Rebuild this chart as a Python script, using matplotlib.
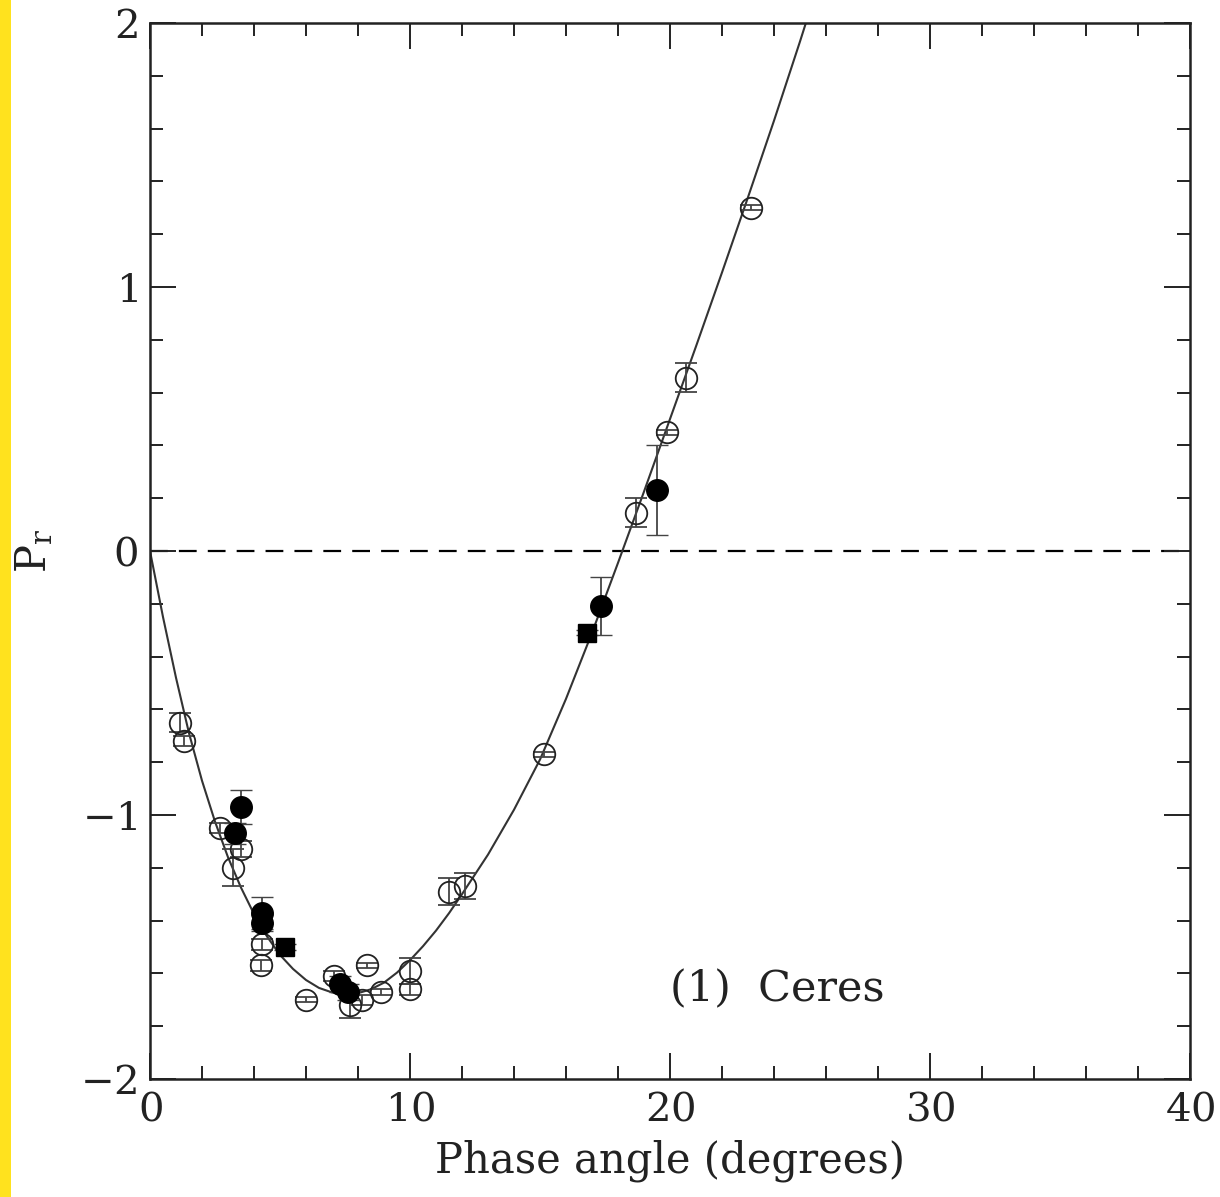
import matplotlib
matplotlib.use("Agg")
import matplotlib.pyplot as plt
from matplotlib.patches import Rectangle
from matplotlib.ticker import MultipleLocator

plt.rcParams['font.family'] = ['DejaVu Serif']
plt.rcParams['mathtext.fontset'] = 'dejavuserif'
plt.rcParams['axes.formatter.use_mathtext'] = True

# Open-circle measurements
open_x = [1.15, 1.31, 2.69, 3.5, 3.2, 4.3, 4.27, 6.0, 7.08, 8.35, 7.7, 8.15, 8.9,
          10.0, 10.0, 11.5, 12.1, 15.15, 18.7, 19.9, 20.6, 23.1]
open_y = [-0.65, -0.72, -1.05, -1.13, -1.20, -1.49, -1.57, -1.70, -1.61, -1.57, -1.72,
          -1.70, -1.67, -1.59, -1.66, -1.29, -1.27, -0.77, 0.145, 0.45, 0.656, 1.30]
open_err = [0.035, 0.02, 0.02, 0.03, 0.07, 0.02, 0.02, 0.01, 0.02, 0.01, 0.05,
            0.02, 0.01, 0.05, 0.02, 0.05, 0.05, 0.01, 0.055, 0.01, 0.055, 0.01]

# Filled-circle measurements
filled_x = [3.5, 3.27, 4.3, 4.3, 7.3, 7.6, 17.35, 19.5]
filled_y = [-0.97, -1.07, -1.37, -1.41, -1.64, -1.67, -0.21, 0.23]
filled_err = [0.065, 0.04, 0.06, 0.03, 0.03, 0.03, 0.11, 0.17]

# Filled-square measurements
square_x = [5.2, 16.8]
square_y = [-1.50, -0.31]
square_err = [0.01, 0.01]

# Fitted phase curve
curve_x = [0, 0.5, 1.0, 1.5, 2.0, 2.5, 3.0, 3.5, 4.0, 4.5, 5.0, 5.5, 6.0, 6.5, 7.0,
           7.5, 8.0, 8.5, 9.0, 9.5, 10, 10.5, 11, 11.5, 12, 13, 14, 15, 16, 17, 18, 19, 20,
           21, 22, 23, 24, 25, 26]
curve_y = [0, -0.25, -0.48, -0.69, -0.87, -1.025, -1.16, -1.275, -1.375, -1.46, -1.53,
           -1.583, -1.625, -1.655, -1.672, -1.68, -1.675, -1.66, -1.635, -1.597, -1.55,
           -1.497, -1.438, -1.372, -1.30, -1.15, -0.98, -0.79, -0.56, -0.31, -0.045,
           0.225, 0.50, 0.775, 1.055, 1.34, 1.63, 1.93, 2.24]

x_ticks = [0, 10, 20, 30, 40]
y_ticks = [-2, -1, 0, 1, 2]

fig = plt.figure(figsize=(12.2, 11.97), dpi=100)
fig.patches.append(Rectangle((0, 0), 11 / 1220, 1, transform=fig.transFigure,
                             facecolor='#FFE21E', edgecolor='none', zorder=0))
ax = fig.add_axes([150 / 1220, 1 - 1079 / 1197, 1040 / 1220, 1056 / 1197])

ax.axhline(0, color='black', lw=1.6, ls=(0, (8, 5)), zorder=1)
ax.plot(curve_x, curve_y, color='#333333', lw=1.5, zorder=2)

ekw = dict(ecolor='#444444', elinewidth=1.3, capsize=8, capthick=1.3, ls='none')
ax.errorbar(open_x, open_y, yerr=open_err, fmt='o', ms=15.5, mfc='none',
            mec='#222222', mew=1.3, zorder=3, **ekw)
ax.errorbar(filled_x, filled_y, yerr=filled_err, fmt='o', ms=15.5, mfc='black',
            mec='black', mew=1.0, zorder=4, **ekw)
ax.errorbar(square_x, square_y, yerr=square_err, fmt='s', ms=13.5, mfc='black',
            mec='black', mew=1.0, zorder=4, **ekw)

ax.set_xlim(0, 40)
ax.set_ylim(-2, 2)
ax.set_xticks(x_ticks)
ax.set_yticks(y_ticks)
ax.xaxis.set_minor_locator(MultipleLocator(2))
ax.yaxis.set_minor_locator(MultipleLocator(0.2))
ax.tick_params(which='both', direction='in', top=True, right=True, width=1.4,
               labelsize=29, colors='#222222')
ax.tick_params(which='major', length=19, pad=9)
ax.tick_params(which='minor', length=9.5)
for s in ax.spines.values():
    s.set_linewidth(1.8)
    s.set_color('#222222')

ax.set_xlabel('Phase angle (degrees)', fontsize=30, labelpad=8, color='#222222')
ax.set_ylabel(r'$\mathregular{P_r}$', fontsize=30, labelpad=18, color='#222222')

ax.text(20.0, -1.66, '(1)  Ceres', fontsize=31, ha='left', va='center', color='#222222')

fig.savefig('out.png', dpi=100)
